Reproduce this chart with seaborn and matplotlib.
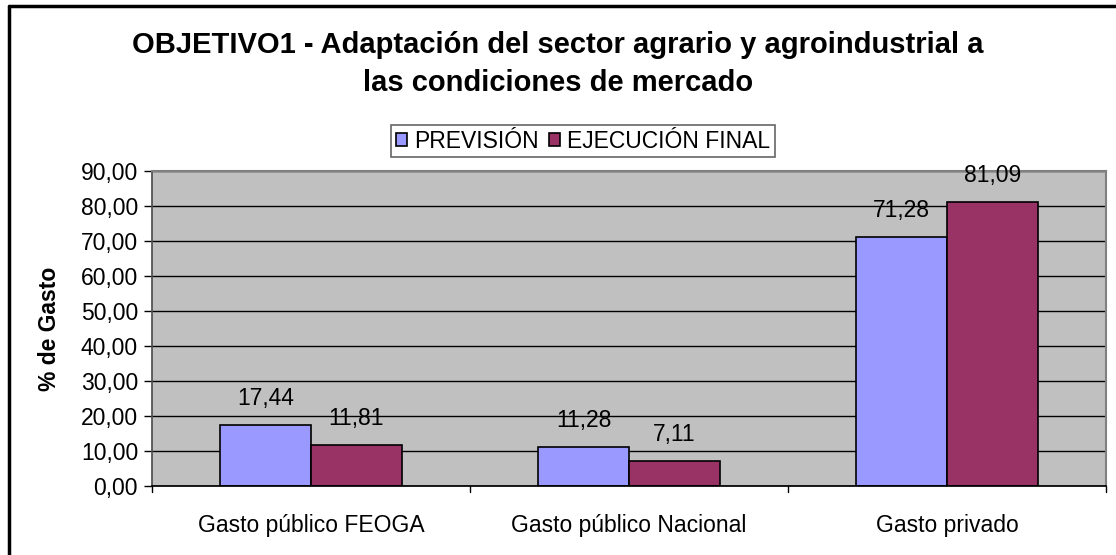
import matplotlib
matplotlib.use("Agg")
import matplotlib.pyplot as plt
import seaborn as sns
import pandas as pd
from matplotlib.lines import Line2D
from matplotlib.patches import Patch
from matplotlib.ticker import FuncFormatter

categories = ["Gasto público FEOGA", "Gasto público Nacional", "Gasto privado"]
series_names = ["PREVISIÓN", "EJECUCIÓN FINAL"]
prevision = [17.44, 11.28, 71.28]
ejecucion = [11.81, 7.11, 81.09]
title = "OBJETIVO1 - Adaptación del sector agrario y agroindustrial a\nlas condiciones de mercado"
ylabel = "% de Gasto"

df = pd.DataFrame({
    "cat": categories * 2,
    "serie": [series_names[0]] * 3 + [series_names[1]] * 3,
    "val": prevision + ejecucion,
})

sns.set_theme(style="white")
plt.rcParams["font.family"] = ["Liberation Sans", "DejaVu Sans"]
plt.rcParams["text.color"] = "black"
plt.rcParams["axes.labelcolor"] = "black"
plt.rcParams["xtick.color"] = "black"
plt.rcParams["ytick.color"] = "black"

W, H = 1116, 555
fig = plt.figure(figsize=(W / 100, H / 100), dpi=100)
ax = fig.add_axes([152 / W, 1 - 486 / H, (1106 - 152) / W, (486 - 171) / H])

colors = ["#9999FF", "#993366"]
sns.barplot(data=df, x="cat", y="val", hue="serie", palette=colors,
            width=0.57, edgecolor="black", linewidth=1.2, ax=ax,
            legend=False, saturation=1)

FS = 16.5
ax.set_facecolor("#C0C0C0")
ax.set_ylim(0, 90)
ax.set_xlim(-0.5, 2.5)
ax.set_yticks(range(0, 91, 10))
ax.yaxis.set_major_formatter(FuncFormatter(lambda v, p: f"{v:.2f}".replace(".", ",")))
ax.yaxis.grid(True, color="black", linewidth=1)
ax.set_axisbelow(True)
ax.set_xlabel("")
ax.set_ylabel(ylabel, fontsize=16.5, fontweight="bold", labelpad=14)

ax.tick_params(axis="y", left=True, length=6, width=1, color="black", labelsize=FS, pad=4)
ax.tick_params(axis="x", bottom=False, labelsize=FS, pad=14)
for xb in [-0.5, 0.5, 1.5, 2.5]:
    ax.plot([xb, xb], [0, -0.02], transform=ax.get_xaxis_transform(),
            color="black", lw=1, clip_on=False)

for s in ["top", "right"]:
    ax.spines[s].set_color("#808080")
    ax.spines[s].set_linewidth(1.5)
ax.spines["left"].set_color("#505050")
ax.spines["bottom"].set_color("black")
for s in ax.spines.values():
    s.set_visible(True)

for cont in ax.containers:
    for bar in cont:
        h = bar.get_height()
        ax.annotate(f"{h:.2f}".replace(".", ","),
                    (bar.get_x() + bar.get_width() / 2, h),
                    xytext=(0, 19), textcoords="offset points",
                    ha="center", va="center", fontsize=FS, color="black")

fig.text(558 / W, 1 - 64 / H, title, ha="center", va="center",
         fontsize=21, fontweight="bold", linespacing=1.45)

handles = [Patch(facecolor=c, edgecolor="black", linewidth=1.2) for c in colors]
leg = fig.legend(handles, series_names, loc="center", bbox_to_anchor=(583 / W, 1 - 141 / H),
                 ncol=2, fontsize=FS, frameon=True, fancybox=False,
                 handlelength=0.5, handleheight=0.5, handletextpad=0.3,
                 columnspacing=0.45, borderpad=0.2, borderaxespad=0)
leg.get_frame().set_edgecolor("#404040")
leg.get_frame().set_linewidth(1.2)

fig.add_artist(Line2D([9 / W, 9 / W], [0, 1 - 6 / H], color="black", lw=2.5, transform=fig.transFigure))
fig.add_artist(Line2D([9 / W, 1], [1 - 6 / H, 1 - 6 / H], color="black", lw=2.5, transform=fig.transFigure))

fig.savefig("out.png", dpi=100, facecolor="white")
